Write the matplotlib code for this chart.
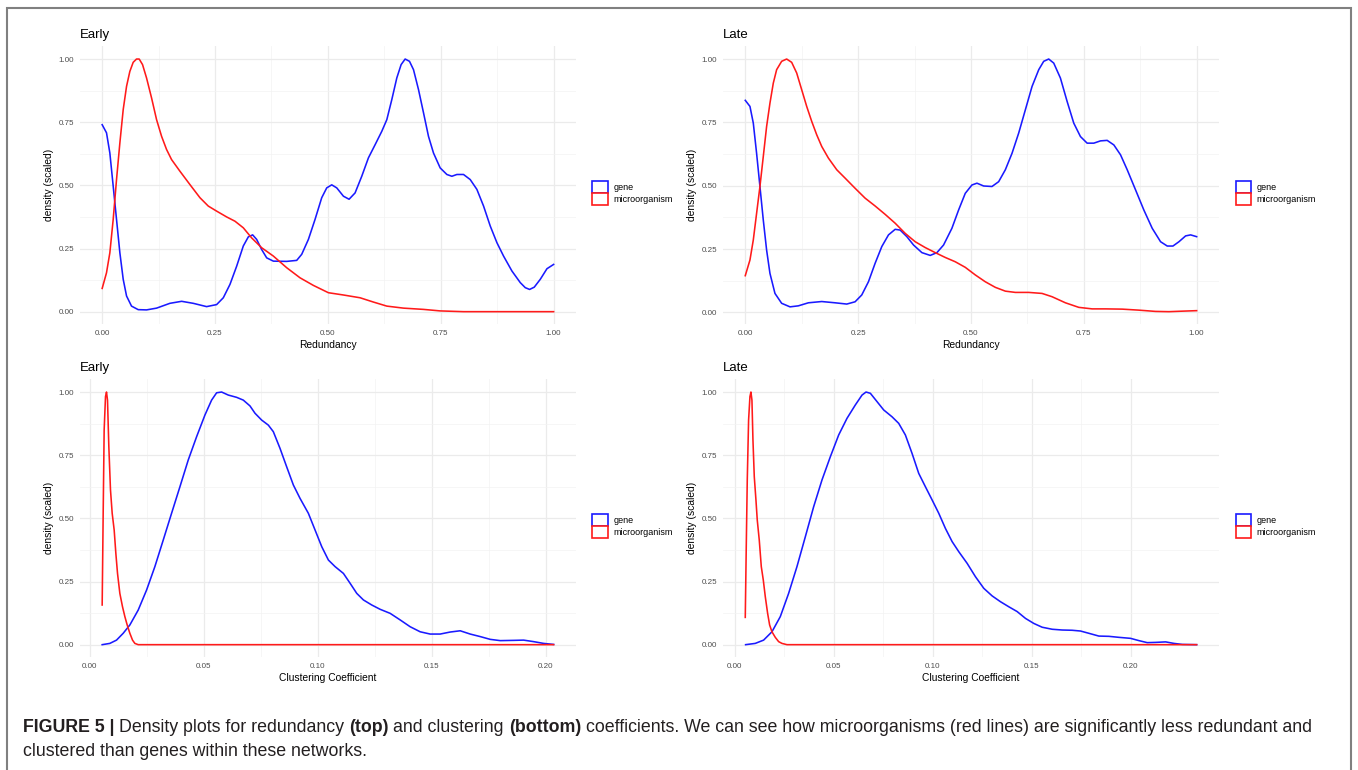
import matplotlib
matplotlib.use("Agg")
import matplotlib.pyplot as plt
from matplotlib.patches import Patch, Rectangle

W, H = 1358, 770

# ---- data (scaled densities) ----
ticks_red = [0.0, 0.25, 0.5, 0.75, 1.0]
ticks_clu = [0.0, 0.05, 0.10, 0.15, 0.20]
ticks_y = [0.0, 0.25, 0.5, 0.75, 1.0]

# top left: redundancy, early
gene_red_early_x = [0.0, 0.0096, 0.017, 0.0244, 0.0318, 0.0392, 0.0466, 0.054, 0.065, 0.0798,
                    0.0983, 0.1205, 0.150, 0.176, 0.2018, 0.2313, 0.2535, 0.2683, 0.2831,
                    0.2979, 0.3126, 0.3237, 0.3333, 0.3422, 0.3533, 0.3644, 0.3792, 0.4087,
                    0.4309, 0.442, 0.4568, 0.4715, 0.4863, 0.4974, 0.5085, 0.5196, 0.5344,
                    0.5469, 0.5602, 0.575, 0.5898, 0.6046, 0.6194, 0.6305, 0.6415, 0.6526,
                    0.6622, 0.6711, 0.6807, 0.6896, 0.7007, 0.7118, 0.7228, 0.7339, 0.7487,
                    0.7635, 0.7746, 0.7857, 0.8004, 0.8152, 0.83, 0.8448, 0.8596, 0.8744,
                    0.8891, 0.9076, 0.9261, 0.9372, 0.9468, 0.9571, 0.9704, 0.9852, 1.0]
gene_red_early_y = [0.740, 0.708, 0.628, 0.497, 0.365, 0.233, 0.128, 0.062, 0.022, 0.008,
                    0.007, 0.014, 0.033, 0.041, 0.033, 0.020, 0.028, 0.055, 0.108,
                    0.180, 0.260, 0.296, 0.304, 0.286, 0.246, 0.213, 0.200, 0.199,
                    0.203, 0.227, 0.286, 0.365, 0.451, 0.490, 0.502, 0.490, 0.457,
                    0.445, 0.470, 0.536, 0.609, 0.661, 0.714, 0.760, 0.839, 0.925,
                    0.978, 1.000, 0.991, 0.958, 0.879, 0.787, 0.694, 0.628, 0.569,
                    0.543, 0.536, 0.543, 0.543, 0.523, 0.484, 0.418, 0.339, 0.273,
                    0.220, 0.161, 0.115, 0.095, 0.088, 0.097, 0.128, 0.170, 0.187]
micro_red_early_x = [0.0, 0.0096, 0.017, 0.0244, 0.0318, 0.0392, 0.0466, 0.054, 0.0613, 0.0687,
                     0.0761, 0.082, 0.0894, 0.0983, 0.1094, 0.1205, 0.1316, 0.1426, 0.1537,
                     0.1722, 0.1944, 0.2166, 0.235, 0.2535, 0.2757, 0.2942, 0.3126, 0.3311,
                     0.3533, 0.3792, 0.4087, 0.4383, 0.4678, 0.5011, 0.5344, 0.5713, 0.6009,
                     0.6305, 0.6674, 0.7118, 0.7487, 0.8004, 1.0]
micro_red_early_y = [0.092, 0.154, 0.233, 0.365, 0.523, 0.668, 0.800, 0.892, 0.951, 0.987,
                     1.000, 1.000, 0.978, 0.925, 0.846, 0.760, 0.694, 0.642, 0.602,
                     0.556, 0.503, 0.451, 0.418, 0.398, 0.375, 0.358, 0.332, 0.292,
                     0.253, 0.220, 0.174, 0.134, 0.104, 0.075, 0.066, 0.055, 0.038,
                     0.022, 0.014, 0.009, 0.003, 0.0, 0.0]

# top right: redundancy, late
gene_red_late_x = [0.0, 0.0104, 0.0178, 0.0251, 0.0325, 0.0399, 0.0473, 0.0547, 0.0658, 0.0806,
                   0.0991, 0.1176, 0.1398, 0.1694, 0.199, 0.2249, 0.2433, 0.2581, 0.2729,
                   0.2877, 0.3025, 0.3173, 0.3321, 0.3432, 0.358, 0.3728, 0.3913, 0.4098,
                   0.4246, 0.4393, 0.4578, 0.4726, 0.4874, 0.5022, 0.5133, 0.5281, 0.5466,
                   0.5614, 0.5762, 0.591, 0.6058, 0.6206, 0.6354, 0.6502, 0.6612, 0.6723,
                   0.6834, 0.6982, 0.713, 0.7278, 0.7426, 0.7574, 0.7722, 0.787, 0.8018,
                   0.8166, 0.8314, 0.8462, 0.8646, 0.8831, 0.9016, 0.9201, 0.9349, 0.9475,
                   0.9608, 0.9756, 0.9867, 1.0]
gene_red_late_y = [0.837, 0.813, 0.747, 0.628, 0.497, 0.365, 0.246, 0.154, 0.075, 0.036,
                   0.022, 0.026, 0.038, 0.043, 0.038, 0.033, 0.042, 0.069, 0.121,
                   0.194, 0.260, 0.306, 0.328, 0.325, 0.299, 0.266, 0.236, 0.225,
                   0.236, 0.266, 0.332, 0.404, 0.470, 0.503, 0.510, 0.499, 0.497,
                   0.516, 0.563, 0.628, 0.708, 0.800, 0.892, 0.958, 0.991, 1.000,
                   0.984, 0.925, 0.833, 0.747, 0.694, 0.668, 0.668, 0.677, 0.679,
                   0.661, 0.622, 0.563, 0.484, 0.404, 0.332, 0.279, 0.262, 0.262,
                   0.279, 0.302, 0.306, 0.299]
micro_red_late_x = [0.0, 0.0104, 0.0178, 0.0251, 0.0325, 0.0399, 0.0473, 0.0547, 0.0621,
                    0.0695, 0.0806, 0.0917, 0.1028, 0.1139, 0.125, 0.1361, 0.1472, 0.1583,
                    0.1694, 0.1842, 0.2027, 0.2212, 0.2433, 0.2655, 0.2877, 0.3099, 0.3321,
                    0.3543, 0.3765, 0.3987, 0.4209, 0.443, 0.4652, 0.4874, 0.5096, 0.5318,
                    0.554, 0.5762, 0.5984, 0.628, 0.6575, 0.6797, 0.7093, 0.7389, 0.7685,
                    0.7981, 0.8351, 0.872, 0.909, 0.9386, 0.9682, 1.0]
micro_red_late_y = [0.145, 0.207, 0.286, 0.391, 0.497, 0.615, 0.734, 0.826, 0.905,
                    0.958, 0.991, 1.000, 0.987, 0.945, 0.879, 0.813, 0.754, 0.701,
                    0.655, 0.609, 0.563, 0.530, 0.490, 0.451, 0.420, 0.387, 0.352,
                    0.312, 0.279, 0.256, 0.236, 0.217, 0.200, 0.178, 0.148, 0.121,
                    0.099, 0.084, 0.079, 0.079, 0.075, 0.062, 0.038, 0.020, 0.014,
                    0.014, 0.013, 0.009, 0.004, 0.003, 0.005, 0.007]

# bottom left: clustering, early
gene_clu_early_x = [0.00549, 0.00885, 0.01178, 0.0147, 0.01763, 0.02129, 0.02495, 0.0286,
                    0.03226, 0.03592, 0.03958, 0.04323, 0.04689, 0.05055, 0.05347, 0.05567,
                    0.05786, 0.06079, 0.06445, 0.06737, 0.0703, 0.0725, 0.07542, 0.07835,
                    0.08054, 0.08347, 0.08639, 0.08932, 0.09225, 0.0959, 0.09883, 0.10176,
                    0.10468, 0.10761, 0.11127, 0.1142, 0.11712, 0.12004, 0.1237, 0.12736,
                    0.13175, 0.13614, 0.14053, 0.14492, 0.1493, 0.15369, 0.15808, 0.16247,
                    0.16686, 0.17125, 0.17564, 0.18003, 0.18588, 0.19027, 0.19466, 0.19905,
                    0.20344]
gene_clu_early_y = [0.0, 0.005, 0.018, 0.045, 0.078, 0.137, 0.216, 0.309,
                    0.414, 0.520, 0.625, 0.731, 0.823, 0.909, 0.968, 0.997,
                    1.0, 0.988, 0.979, 0.968, 0.945, 0.916, 0.889, 0.869,
                    0.843, 0.777, 0.704, 0.632, 0.579, 0.520, 0.454, 0.388,
                    0.335, 0.309, 0.282, 0.243, 0.203, 0.177, 0.157, 0.140,
                    0.124, 0.098, 0.071, 0.051, 0.042, 0.042, 0.050, 0.055,
                    0.042, 0.032, 0.021, 0.016, 0.017, 0.018, 0.012, 0.005,
                    0.001]
micro_clu_early_x = [0.00549, 0.00593, 0.00636, 0.00695, 0.00739, 0.00783, 0.00841, 0.00914,
                     0.00988, 0.01075, 0.01149, 0.01222, 0.01324, 0.01441, 0.01544, 0.01646,
                     0.01763, 0.0188, 0.01982, 0.0213, 0.20344]
micro_clu_early_y = [0.157, 0.520, 0.850, 0.982, 1.0, 0.968, 0.784, 0.612,
                     0.520, 0.454, 0.361, 0.282, 0.203, 0.150, 0.111, 0.078,
                     0.045, 0.018, 0.005, 0.0, 0.0]

# bottom right: clustering, late
gene_clu_late_x = [0.00548, 0.01036, 0.01457, 0.01879, 0.023, 0.02721, 0.03142, 0.03564,
                   0.03985, 0.04406, 0.04828, 0.05249, 0.0567, 0.06091, 0.06428, 0.0663,
                   0.06849, 0.07186, 0.07523, 0.07944, 0.08281, 0.08618, 0.08955, 0.09292,
                   0.0963, 0.09967, 0.10304, 0.10641, 0.10978, 0.11315, 0.11736, 0.12157,
                   0.12578, 0.13, 0.13421, 0.13842, 0.14263, 0.14684, 0.15105, 0.15527,
                   0.16032, 0.16538, 0.17043, 0.17464, 0.17885, 0.18391, 0.18896, 0.19402,
                   0.19992, 0.20413, 0.20834, 0.2126, 0.21761, 0.22182, 0.22603, 0.23328]
gene_clu_late_y = [0.0, 0.005, 0.018, 0.051, 0.111, 0.203, 0.309, 0.427,
                   0.546, 0.652, 0.744, 0.830, 0.896, 0.949, 0.988, 1.0,
                   0.995, 0.962, 0.929, 0.902, 0.876, 0.830, 0.757, 0.678,
                   0.625, 0.573, 0.520, 0.460, 0.408, 0.368, 0.322, 0.269,
                   0.223, 0.193, 0.170, 0.150, 0.131, 0.104, 0.084, 0.069,
                   0.061, 0.058, 0.057, 0.054, 0.045, 0.034, 0.033, 0.029,
                   0.025, 0.016, 0.008, 0.009, 0.011, 0.005, 0.001, 0.0]
micro_clu_late_x = [0.00531, 0.00581, 0.00632, 0.00699, 0.00767, 0.00817, 0.00868, 0.00919,
                    0.00986, 0.0107, 0.01137, 0.01238, 0.0134, 0.01441, 0.01542, 0.0166,
                    0.01761, 0.01879, 0.02047, 0.02216, 0.02384, 0.02637, 0.23328]
micro_clu_late_y = [0.108, 0.388, 0.652, 0.889, 0.982, 1.0, 0.968, 0.810,
                    0.665, 0.573, 0.493, 0.414, 0.309, 0.256, 0.190, 0.124,
                    0.078, 0.051, 0.029, 0.012, 0.005, 0.0, 0.0]

GENE_C = "#1a1aff"
MICRO_C = "#ff1a1a"
FONT = "Liberation Sans"

plt.rcParams["font.family"] = [FONT, "DejaVu Sans"]

fig = plt.figure(figsize=(W / 100, H / 100), dpi=100)


def px_axes(left, right, top, bottom):
    return fig.add_axes([left / W, 1 - bottom / H, (right - left) / W, (bottom - top) / H])


def style(ax, title, xlabel, xticks, leg_x, leg_y):
    ax.set_facecolor("white")
    for s in ax.spines.values():
        s.set_visible(False)
    ax.set_xticks(xticks)
    ax.set_xticklabels([f"{t:.2f}" for t in xticks])
    ax.set_xticks([(a + b) / 2 for a, b in zip(xticks[:-1], xticks[1:])], minor=True)
    ax.set_yticks(ticks_y)
    ax.set_yticklabels([f"{t:.2f}" for t in ticks_y])
    ax.set_yticks([(a + b) / 2 for a, b in zip(ticks_y[:-1], ticks_y[1:])], minor=True)
    ax.tick_params(which="both", length=0, labelsize=5.8, labelcolor="#4d4d4d")
    ax.tick_params(axis="x", pad=4)
    ax.tick_params(axis="y", pad=4)
    ax.grid(which="major", color="#ebebeb", lw=0.9)
    ax.grid(which="minor", color="#f3f3f3", lw=0.5)
    ax.set_axisbelow(True)
    ax.margins(0.05)
    ax.set_title(title, loc="left", fontsize=9.5, pad=6)
    ax.set_xlabel(xlabel, fontsize=7.4, labelpad=2)
    ax.set_ylabel("density (scaled)", fontsize=7.4, labelpad=3)
    handles = [Patch(facecolor="white", edgecolor=GENE_C, lw=1.2),
               Patch(facecolor="white", edgecolor=MICRO_C, lw=1.2)]
    ax.legend(handles, ["gene", "microorganism"], loc="center left",
              bbox_to_anchor=(leg_x / W, 1 - leg_y / H), bbox_transform=fig.transFigure,
              frameon=False, fontsize=6.5, borderpad=0, borderaxespad=0,
              handlelength=1.75, handleheight=1.75, labelspacing=0, handletextpad=0.6)


panels = [
    ((79.6, 576.2, 46.4, 324.3), "Early", "Redundancy", ticks_red, 592, 193,
     gene_red_early_x, gene_red_early_y, micro_red_early_x, micro_red_early_y),
    ((722.7, 1219.2, 46.4, 324.3), "Late", "Redundancy", ticks_red, 1235.6, 193,
     gene_red_late_x, gene_red_late_y, micro_red_late_x, micro_red_late_y),
    ((79.6, 576.2, 379.4, 657.3), "Early", "Clustering Coefficient", ticks_clu, 592, 526,
     gene_clu_early_x, gene_clu_early_y, micro_clu_early_x, micro_clu_early_y),
    ((722.7, 1219.2, 379.4, 657.3), "Late", "Clustering Coefficient", ticks_clu, 1235.6, 526,
     gene_clu_late_x, gene_clu_late_y, micro_clu_late_x, micro_clu_late_y),
]

for box, title, xlabel, xt, lx, ly, gx, gy, mx, my in panels:
    ax = px_axes(*box)
    ax.plot(gx, gy, color=GENE_C, lw=1.15, solid_joinstyle="round")
    ax.plot(mx, my, color=MICRO_C, lw=1.15, solid_joinstyle="round")
    style(ax, title, xlabel, xt, lx, ly)

# outer frame
fig.add_artist(Rectangle((7.3 / W, -0.02), (1350.7 - 7.3) / W, 1.02 - 8.3 / H,
                         transform=fig.transFigure, fill=False, edgecolor="#808080", lw=1.5))

# caption with bold runs
cap1 = [("FIGURE 5 |", True), ("Density plots for redundancy", False), ("(top)", True),
        ("and clustering", False), ("(bottom)", True),
        ("coefficients. We can see how microorganisms (red lines) are significantly less "
         "redundant and", False)]
cap2 = [("clustered than genes within these networks.", False)]
renderer = fig.canvas.get_renderer()


def text_w(s, size, bold):
    t = fig.text(0, 0, s, fontsize=size, fontweight="bold" if bold else "normal")
    w = t.get_window_extent(renderer).width
    t.remove()
    return w


def line_width(pieces, size):
    sp = text_w("a a", size, False) - text_w("aa", size, False)
    return sum(text_w(s, size, b) for s, b in pieces) + sp * (len(pieces) - 1)


def draw_line(pieces, x0, base, size):
    sp = text_w("a a", size, False) - text_w("aa", size, False)
    x = x0
    for s, b in pieces:
        fig.text(x / W, 1 - base / H, s, fontsize=size, color="#231f20",
                 fontweight="bold" if b else "normal", ha="left", va="baseline")
        x += text_w(s, size, b) + sp


cap_size = 10 * (1321.7 - 22.7) / line_width(cap1, 10)
draw_line(cap1, 22.7, 732.5, cap_size)
draw_line(cap2, 22.7, 755.5, cap_size)

fig.savefig("out.png", dpi=100, facecolor="white")
